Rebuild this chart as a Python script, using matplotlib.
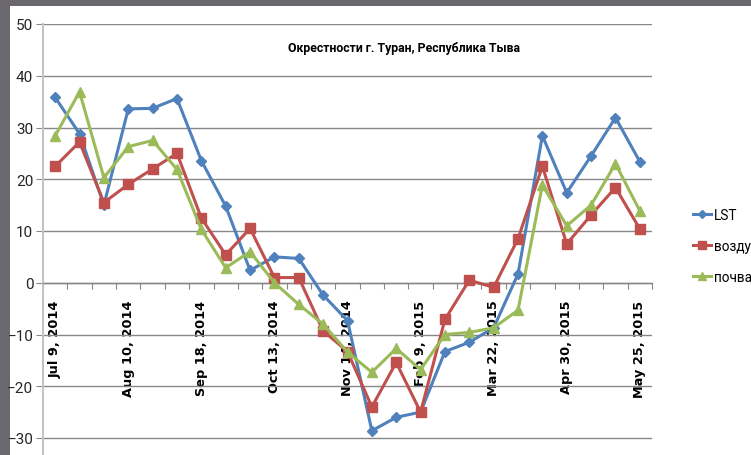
import numpy as np
import matplotlib
matplotlib.use('Agg')
import matplotlib.pyplot as plt
from matplotlib.patches import Rectangle

# ---- data ----
series_names = ['LST', 'воздух', 'почва']
lst = [35.8, 28.8, 15.0, 33.6, 33.7, 35.6, 23.6, 14.8, 2.4, 5.0, 4.7, -2.4, -7.3,
       -28.6, -26.0, -25.0, -13.3, -11.5, -8.7, 1.7, 28.4, 17.4, 24.5, 31.9, 23.4]
air = [22.5, 27.2, 15.5, 19.0, 22.0, 25.0, 12.5, 5.4, 10.5, 1.0, 1.0, -9.3, -13.3,
       -24.0, -15.4, -25.0, -7.1, 0.5, -0.9, 8.5, 22.5, 7.5, 13.1, 18.4, 10.4]
soil = [28.4, 36.9, 20.3, 26.3, 27.5, 21.9, 10.3, 2.9, 6.0, 0.0, -4.2, -8.0, -13.4,
        -17.3, -12.7, -16.8, -10.0, -9.6, -8.7, -5.3, 18.9, 11.0, 15.0, 23.0, 13.9]
date_labels = ['Jul 9, 2014', 'Aug 10, 2014', 'Sep 18, 2014', 'Oct 13, 2014',
               'Nov 14, 2014', 'Feb 9, 2015', 'Mar 22, 2015', 'Apr 30, 2015',
               'May 25, 2015']
label_every = 3
y_ticks = [50, 40, 30, 20, 10, 0, -10, -20, -30]
title = 'Окрестности г. Туран, Республика Тыва'

n = len(lst)
cats = np.arange(1, n + 1)

W, H = 751, 456
fig = plt.figure(figsize=(W / 100, H / 100), dpi=100)
fig.patch.set_facecolor('white')

# dark slide frame
frame_col = '#6a686d'
fig.add_artist(Rectangle((0, 1 - 7 / H), 1, 7 / H, transform=fig.transFigure,
                         facecolor=frame_col, edgecolor='none', zorder=0))
fig.add_artist(Rectangle((0, 0), 10 / W, 1, transform=fig.transFigure,
                         facecolor=frame_col, edgecolor='none', zorder=0))

ax_left, ax_right = 43, 652
ax_top = 25
ax = fig.add_axes([ax_left / W, 0, (ax_right - ax_left) / W, (H - ax_top) / H])
ax.set_facecolor('none')

px_per_unit = 5.175
ymin = 50 - (H - ax_top) / px_per_unit
ax.set_ylim(ymin, 50)
ax.set_xlim(0.5, n + 0.5)

colors = ['#4F81BD', '#C0504D', '#9BBB59']
markers = ['D', 's', '^']
msizes = [4.8, 6.5, 7]
for vals, name, c, m, ms in zip([lst, air, soil], series_names, colors, markers, msizes):
    ax.plot(cats, vals, color=c, lw=2.2, marker=m, markersize=ms,
            markerfacecolor=c, markeredgecolor=c, label=name, zorder=3,
            clip_on=False)

# grid
ax.set_yticks(y_ticks)
ax.yaxis.grid(True, color='#878787', lw=1.0)
ax.set_axisbelow(True)
ax.tick_params(axis='y', length=5, color='#878787', pad=2,
               labelsize=11, labelcolor='#262626')
for lab in ax.get_yticklabels():
    lab.set_family(['Roboto', 'DejaVu Sans'])

# spines
for s in ['top', 'right']:
    ax.spines[s].set_visible(False)
ax.spines['left'].set_color('#c4c4c4')
ax.spines['left'].set_linewidth(1.5)
ax.spines['bottom'].set_position(('data', 0))
ax.spines['bottom'].set_color('#878787')
ax.spines['bottom'].set_linewidth(1.0)

# x ticks: boundaries as major (marks), labels on minor
ax.set_xticks(np.arange(0.5, n + 1.0, 1.0))
ax.set_xticklabels([])
ax.tick_params(axis='x', which='major', length=4, color='#878787', direction='out')
lab_pos = cats[::label_every]
ax.set_xticks(lab_pos, minor=True)
ax.set_xticklabels(date_labels, minor=True, rotation=90,
                   fontsize=9.3, fontweight='bold', family='DejaVu Sans',
                   color='black')
ax.tick_params(axis='x', which='minor', length=0, pad=12)

# title
fig.text(404 / W, 1 - 49 / H, title, ha='center', va='center',
         fontsize=8.8, fontweight='bold', family=['Roboto', 'DejaVu Sans'],
         color='black')

# legend
leg = fig.legend(loc='upper left', bbox_to_anchor=(693 / W, 1 - 209 / H),
                 frameon=False, handlelength=1.3,
                 handletextpad=0.25, labelspacing=1.25, borderaxespad=0,
                 borderpad=0, prop={'family': ['Roboto', 'DejaVu Sans'], 'size': 9.8})
for lh in leg.get_lines():
    lh.set_markersize(lh.get_markersize() * 0.9)

fig.savefig('out.png', dpi=100, facecolor='white')
